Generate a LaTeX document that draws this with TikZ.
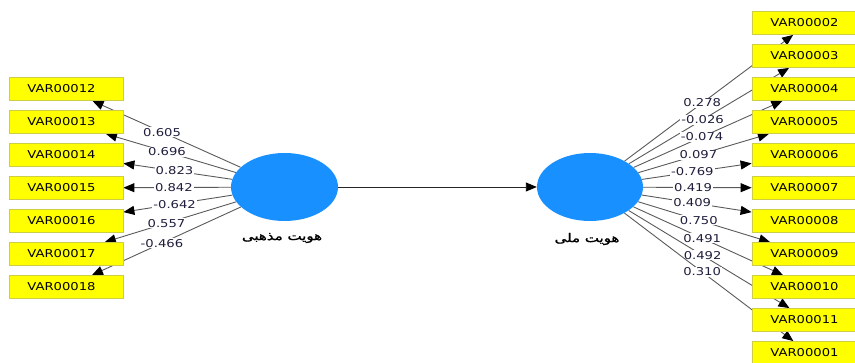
\documentclass[tikz,border=0pt]{standalone}
\usepackage{fontspec}
\setmainfont{DejaVu Sans}
\newfontfamily\lblfont[FakeStretch=1.22]{DejaVu Sans}
\newfontfamily\arabicfont[Script=Arabic,FakeStretch=1.25,FakeBold=1.2]{DejaVu Sans}
\TeXXeTstate=1
\usetikzlibrary{arrows.meta,shapes.geometric}
\pgfdeclarelayer{bg}
\pgfsetlayers{bg,main}
\definecolor{boxfill}{RGB}{255,255,0}
\definecolor{boxline}{RGB}{205,205,70}
\definecolor{latent}{RGB}{24,144,255}
\definecolor{linkc}{RGB}{90,90,90}
\definecolor{numc}{RGB}{30,30,60}
\newcommand{\indtxt}[1]{\hspace*{-9pt}#1}
\begin{document}
\begin{tikzpicture}[x=1pt,y=-1pt,
  ind/.style={rectangle, fill=boxfill, draw=boxline, line width=0.8pt,
    minimum width=114pt, minimum height=23pt, text width=100pt,
    inner xsep=7pt, inner ysep=0pt, align=center,
    font=\lblfont\fontsize{10.8}{12}\selectfont},
  lat/.style={ellipse, fill=latent, minimum width=107pt, minimum height=68pt, inner sep=0pt},
  link/.style={draw=linkc, line width=0.9pt,
    -{Triangle[length=11pt,width=9pt,color=black,fill=black]}},
  path2/.style={draw=black!85, line width=0.9pt,
    -{Triangle[length=11pt,width=9pt,color=black,fill=black]}},
  num/.style={fill=white, inner sep=1pt, text=numc,
    font=\lblfont\fontsize{10.8}{12}\selectfont},
  latname/.style={font=\arabicfont\fontsize{12}{14}\selectfont, text=black}
]
\useasboundingbox (0,0) rectangle (855,363);
\clip (0,0) rectangle (855,363);

% latent variables
\node[lat] (L) at (284.5,187) {};
\node[lat, minimum width=106pt] (R) at (590,187) {};
\node[latname] (Lname) at (282,238) {\beginR هویت مذهبی\endR};
\node[latname] (Rname) at (587,239) {\beginR هویت ملی\endR};

% left indicators
\foreach \i/\n in {0/12,1/13,2/14,3/15,4/16,5/17,6/18}
  \node[ind] (v\n) at (66,{89+33*\i}) {\indtxt{VAR000\n}};

% right indicators
\foreach \i/\n in {0/02,1/03,2/04,3/05,4/06,5/07,6/08,7/09,8/10,9/11,10/01}
  \node[ind] (v\n) at (809,{23+33*\i}) {\indtxt{VAR000\n}};

\begin{pgfonlayer}{bg}
  \draw[path2] (L) -- (R);
  \foreach \n/\w in {12/0.605,13/0.696,14/0.823,15/0.842,16/-0.642,17/0.557,18/-0.466}
    \draw[link] (L) -- node[num,pos=0.53]{\w} (v\n);
  \foreach \n/\w in {02/0.278,03/-0.026,04/-0.074,05/0.097,06/-0.769,07/0.419,08/0.409,09/0.750,10/0.491,11/0.492,01/0.310}
    \draw[link] (R) -- node[num,pos=0.46]{\w} (v\n);
\end{pgfonlayer}
\end{tikzpicture}
\end{document}
